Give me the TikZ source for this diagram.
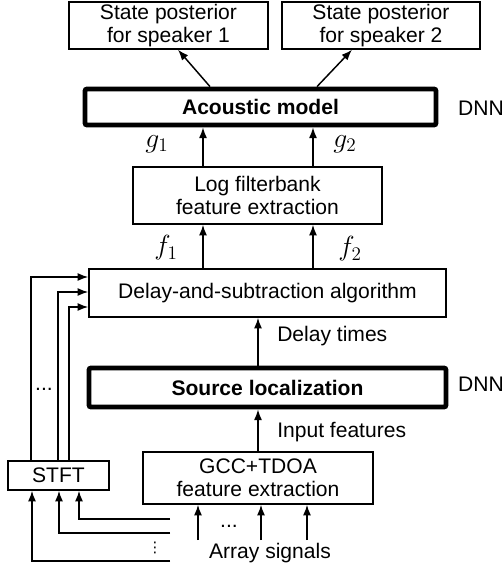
\documentclass[tikz,border=0pt]{standalone}
\usepackage{fontspec}
\setmainfont{Liberation Sans}
\newfontfamily\symfont{DejaVu Sans}
\usetikzlibrary{arrows.meta}
\begin{document}
\begin{tikzpicture}[x=0.75pt,y=-0.75pt,
  txt/.style={font=\fontsize{15.8}{17}\selectfont},
  box/.style={draw,line width=1.1pt,inner sep=0pt,align=center,txt},
  thickbox/.style={draw,line width=3.6pt,rounded corners=1.5pt,inner sep=0pt,align=center,
    font=\fontsize{15.8}{17}\selectfont\bfseries},
  arr/.style={line width=1.1pt,-{Latex[length=8pt,width=6pt]}},
  sym/.style={font=\fontsize{20}{22}\selectfont},
  lbl/.style={txt,anchor=west,inner sep=0pt}]
\useasboundingbox (0,0) rectangle (503,568);

% processing blocks
\node[box,minimum width=199*0.75pt,minimum height=47*0.75pt] (sp1) at (168.5,25.5)
  {State posterior\\for speaker 1};
\node[box,minimum width=198*0.75pt,minimum height=47*0.75pt] (sp2) at (381,25.5)
  {State posterior\\for speaker 2};
\node[thickbox,minimum width=351*0.75pt,minimum height=36*0.75pt] (am) at (260.5,107)
  {Acoustic model};
\node[box,minimum width=249*0.75pt,minimum height=57*0.75pt] (lf) at (257.5,195.5)
  {Log filterbank\\feature extraction};
\node[box,minimum width=357*0.75pt,minimum height=48*0.75pt] (ds) at (267.5,293)
  {Delay-and-subtraction algorithm};
\node[thickbox,minimum width=357*0.75pt,minimum height=39*0.75pt] (sl) at (267.5,387.5)
  {Source localization};
\node[box,minimum width=230*0.75pt,minimum height=52*0.75pt] (gcc) at (258,478)
  {GCC+TDOA\\feature extraction};
\node[box,minimum width=101*0.75pt,minimum height=29*0.75pt] (stft) at (58.5,475.5)
  {STFT};

% side labels
\node[txt,inner sep=0pt] (dnn1) at (481,108) {DNN};
\node[txt,inner sep=0pt] (dnn2) at (481,384) {DNN};

% reference columns for the connectors
\coordinate (c1) at (210,0);
\coordinate (c2) at (317,0);
\coordinate (t1) at (178,0);
\coordinate (t2) at (352,0);
\coordinate (m1) at (203,0);
\coordinate (m2) at (313,0);
\coordinate (mc) at (258,0);

% acoustic model to posteriors
\draw[arr] (am.north -| c1) -- (sp1.south -| t1);
\draw[arr] (am.north -| c2) -- (sp2.south -| t2);
% feature paths
\draw[arr] (lf.north -| m1) -- (am.south -| m1);
\draw[arr] (lf.north -| m2) -- (am.south -| m2);
\draw[arr] (ds.north -| m1) -- (lf.south -| m1);
\draw[arr] (ds.north -| m2) -- (lf.south -| m2);
\draw[arr] (sl.north -| mc) -- (ds.south -| mc);
\draw[arr] (gcc.north -| mc) -- (sl.south -| mc);

\node[sym,anchor=center] (g1) at (157,144) {$g_1$};
\node[sym,anchor=center] (g2) at (345,144) {$g_2$};
\node[sym,anchor=center] (f1) at (166,248) {$f_1$};
\node[sym,anchor=center] (f2) at (350,249) {$f_2$};
\node[lbl] (dt) at (277,336) {Delay times};
\node[lbl] (inf) at (277,432) {Input features};

% array signal inputs to the GCC block
\coordinate (a1) at (198,540);
\coordinate (a2) at (261,540);
\coordinate (a3) at (307,540);
\draw[arr] (a1) -- (gcc.south -| a1);
\draw[arr] (a2) -- (gcc.south -| a2);
\draw[arr] (a3) -- (gcc.south -| a3);
\node[txt,inner sep=0pt] (adots) at (229,526) {...};
\node[txt,inner sep=0pt] (arr) at (270,553) {Array signals};

% array signal inputs to the STFT block
\coordinate (s1) at (170,519);
\coordinate (s2) at (170,533);
\coordinate (s3) at (170,561);
\coordinate (u1) at (79,0);
\coordinate (u2) at (59,0);
\coordinate (u3) at (32,0);
\draw[arr] (s1) -| (stft.south -| u1);
\draw[arr] (s2) -| (stft.south -| u2);
\draw[arr] (s3) -| (stft.south -| u3);
\node[inner sep=0pt,font=\symfont\fontsize{11}{12}\selectfont] (vdots) at (155,548) {⋮};

% STFT outputs to the delay-and-subtraction block
\coordinate (o1) at (31,277);
\coordinate (o2) at (58,292);
\coordinate (o3) at (69,307);
\draw[arr] (stft.north -| o1) |- (ds.west |- o1);
\draw[arr] (stft.north -| o2) |- (ds.west |- o2);
\draw[arr] (stft.north -| o3) |- (ds.west |- o3);
\node[txt,inner sep=0pt] (odots) at (44,389) {...};
\end{tikzpicture}
\end{document}
